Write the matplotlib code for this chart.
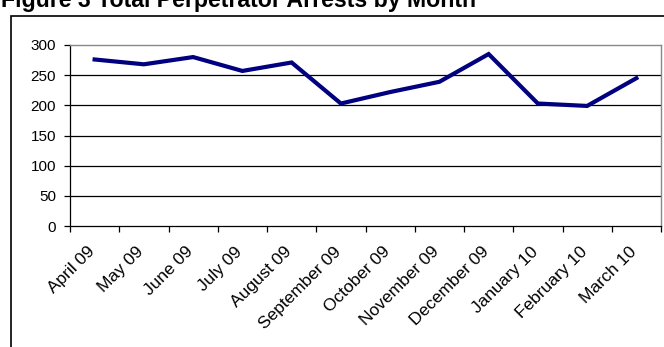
import matplotlib
matplotlib.use("Agg")
import matplotlib.pyplot as plt
from matplotlib.patches import Rectangle

plt.rcParams['font.family'] = ['Liberation Sans', 'DejaVu Sans']

# monthly arrest counts
months = ["April 09", "May 09", "June 09", "July 09", "August 09", "September 09",
          "October 09", "November 09", "December 09", "January 10", "February 10", "March 10"]
arrests = [276, 268, 280, 257, 271, 203, 222, 239, 285, 203, 199, 245]
y_ticks = [0, 50, 100, 150, 200, 250, 300]

fig = plt.figure(figsize=(6.64, 3.47), dpi=100)
ax = fig.add_axes([70 / 664, 1 - 226 / 347, 591 / 664, 181 / 347])

# chart frame
fig.patches.append(Rectangle((11 / 664, -0.1), 1.2, 1 - 16 / 347 + 0.1,
                             transform=fig.transFigure, fill=False,
                             edgecolor='black', linewidth=1.2))

fig.text(1 / 664, 1 - 7.5 / 347, "Figure 3 Total Perpetrator Arrests by Month",
         fontsize=16.7, fontweight='bold', ha='left', va='baseline')

x = [i + 0.5 for i in range(len(months))]
ax.plot(x, arrests, color='#000080', linewidth=3, solid_joinstyle='miter')

ax.set_xlim(0, len(months))
ax.set_ylim(0, 300)
ax.set_yticks(y_ticks)
ax.set_yticklabels([str(v) for v in y_ticks], fontsize=11)
for v in y_ticks[1:-1]:
    ax.axhline(v, color='black', linewidth=0.9, zorder=0)

ax.set_xticks([v - 0.16 for v in x])
ax.set_xticklabels(months, fontsize=12.5, rotation=45, ha='right', va='top',
                   rotation_mode='anchor')
ax.set_xticks(range(len(months) + 1), minor=True)
ax.tick_params(axis='x', which='major', length=0, pad=13)
ax.tick_params(axis='x', which='minor', length=4.3, width=0.9, direction='out')
ax.tick_params(axis='y', length=4, width=0.9, direction='out', pad=6)

for side in ['left', 'bottom']:
    ax.spines[side].set_color('black')
    ax.spines[side].set_linewidth(0.9)
for side in ['top', 'right']:
    ax.spines[side].set_color('#888888')
    ax.spines[side].set_linewidth(1.0)

fig.savefig("out.png", dpi=100)
